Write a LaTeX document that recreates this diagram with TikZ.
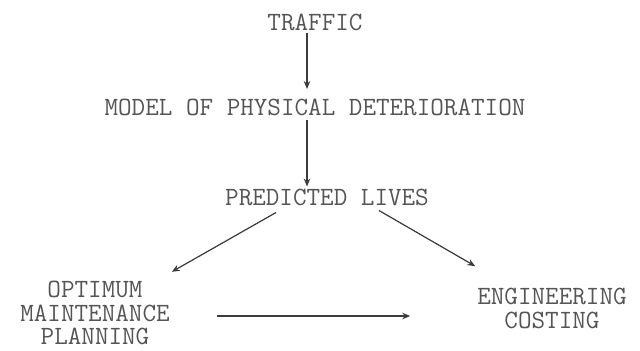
\documentclass[tikz,border=0pt]{standalone}
\usepackage{fontspec}
\usetikzlibrary{arrows.meta, positioning}
\definecolor{inkGray}{RGB}{85, 85, 85}
\definecolor{lineGray}{RGB}{60, 60, 60}

\begin{document}
\begin{tikzpicture}[
    font=\ttfamily\fontsize{15pt}{13.5pt}\selectfont,
    % Estilo para las etiquetas
    lbl/.style={
        text=inkGray,
        align=center,
        inner sep=1pt
    },
    % Estilo para flechas
    arrow/.style={
        -{Stealth[length=1.6mm, width=1.3mm]},
        line width=0.7pt,
        lineGray
    }
]
    \useasboundingbox (0,0) rectangle (12.8,-7);

    % --- Columna central ---
    \node[lbl] (traffic) at (6.3,-0.44) {TRAFFIC};
    \node[lbl, below=1.29cm of traffic] (model) {MODEL OF PHYSICAL DETERIORATION};
    \node[lbl, below=1.37cm of model, xshift=0.24cm] (predicted) {PREDICTED LIVES};

    \draw[arrow, shorten >=0.16cm] ([xshift=-0.16cm]traffic.south) -- ([xshift=-0.16cm]model.north);
    \draw[arrow] ([xshift=-0.16cm,yshift=-0.04cm]model.south) -- ([xshift=-0.16cm]model.south |- predicted.north);

    % --- Salidas (abajo) ---
    \node[lbl] (optimum) at (1.9,-6.26) {OPTIMUM\\MAINTENANCE\\PLANNING};
    \node[lbl] (costing) at (11.04,-6.17) {ENGINEERING\\COSTING};

    \draw[arrow] ([xshift=1.06cm,yshift=-0.1cm]predicted.south west) -- ([yshift=0.14cm]optimum.north east);
    \draw[arrow] ([xshift=-1.04cm,yshift=-0.06cm]predicted.south east) -- ([yshift=0.4cm]costing.north west);

    \draw[arrow, shorten <=0.9cm, shorten >=1.3cm] ([yshift=-0.06cm]optimum.east) -- ([yshift=-0.06cm]optimum.east -| costing.west);

\end{tikzpicture}
\end{document}
